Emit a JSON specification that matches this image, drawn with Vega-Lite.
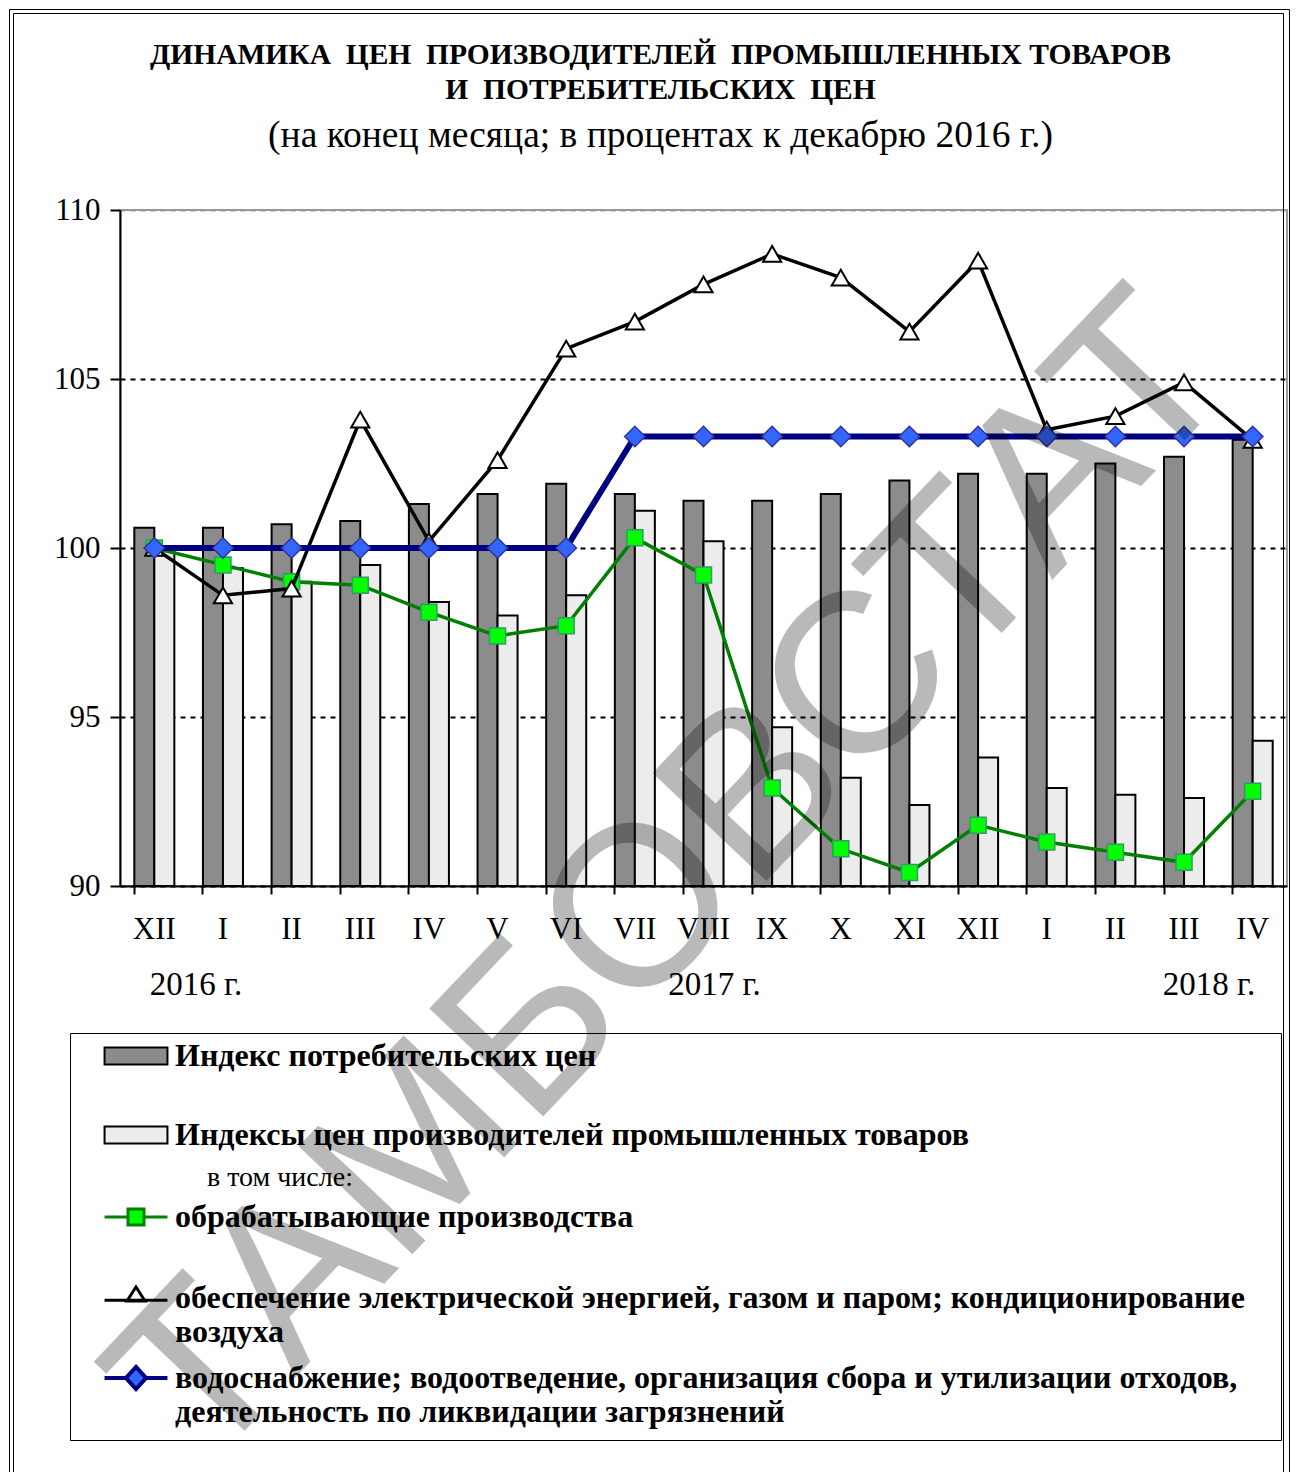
{
  "$schema": "https://vega.github.io/schema/vega-lite/v6.json",
  "width": 1167,
  "height": 676,
  "autosize": {"type": "none"},
  "padding": {"left": 120, "top": 210, "right": 13, "bottom": 586},
  "background": "white",
  "config": {
    "view": {"stroke": "#999999", "strokeWidth": 2},
    "legend": {
      "orient": "none", "direction": "vertical", "padding": 0,
      "labelFont": "Liberation Serif", "labelFontSize": 32, "labelFontWeight": "bold", "labelColor": "black", "labelLimit": 1400,
      "symbolSize": 289, "symbolOffset": 50, "labelOffset": 23, "symbolOpacity": 1
    }
  },
  "title": {
    "text": ["ДИНАМИКА\u00a0\u00a0ЦЕН\u00a0\u00a0ПРОИЗВОДИТЕЛЕЙ\u00a0\u00a0ПРОМЫШЛЕННЫХ ТОВАРОВ", "И\u00a0\u00a0ПОТРЕБИТЕЛЬСКИХ\u00a0\u00a0ЦЕН"],
    "subtitle": "(на конец месяца; в процентах к декабрю 2016 г.)",
    "font": "Liberation Serif",
    "fontSize": 29.5,
    "fontWeight": "bold",
    "lineHeight": 35,
    "color": "black",
    "subtitleFont": "Liberation Serif",
    "subtitleFontSize": 37.5,
    "subtitleFontWeight": "normal",
    "subtitleColor": "black",
    "subtitlePadding": 12,
    "anchor": "middle",
    "dx": -43,
    "offset": -147
  },
  "resolve": {"scale": {"color": "independent"}, "legend": {"color": "independent"}},
  "datasets": {
    "series": [
      {"m": "XII 2016", "s": "a", "v": 100.6}, {"m": "I 2017", "s": "a", "v": 100.6}, {"m": "II 2017", "s": "a", "v": 100.7}, {"m": "III 2017", "s": "a", "v": 100.8}, {"m": "IV 2017", "s": "a", "v": 101.3}, {"m": "V 2017", "s": "a", "v": 101.6}, {"m": "VI 2017", "s": "a", "v": 101.9}, {"m": "VII 2017", "s": "a", "v": 101.6}, {"m": "VIII 2017", "s": "a", "v": 101.4}, {"m": "IX 2017", "s": "a", "v": 101.4}, {"m": "X 2017", "s": "a", "v": 101.6}, {"m": "XI 2017", "s": "a", "v": 102.0}, {"m": "XII 2017", "s": "a", "v": 102.2}, {"m": "I 2018", "s": "a", "v": 102.2}, {"m": "II 2018", "s": "a", "v": 102.5}, {"m": "III 2018", "s": "a", "v": 102.7}, {"m": "IV 2018", "s": "a", "v": 103.2},
      {"m": "XII 2016", "s": "b", "v": 100.0}, {"m": "I 2017", "s": "b", "v": 99.4}, {"m": "II 2017", "s": "b", "v": 99.0}, {"m": "III 2017", "s": "b", "v": 99.5}, {"m": "IV 2017", "s": "b", "v": 98.4}, {"m": "V 2017", "s": "b", "v": 98.0}, {"m": "VI 2017", "s": "b", "v": 98.6}, {"m": "VII 2017", "s": "b", "v": 101.1}, {"m": "VIII 2017", "s": "b", "v": 100.2}, {"m": "IX 2017", "s": "b", "v": 94.7}, {"m": "X 2017", "s": "b", "v": 93.2}, {"m": "XI 2017", "s": "b", "v": 92.4}, {"m": "XII 2017", "s": "b", "v": 93.8}, {"m": "I 2018", "s": "b", "v": 92.9}, {"m": "II 2018", "s": "b", "v": 92.7}, {"m": "III 2018", "s": "b", "v": 92.6}, {"m": "IV 2018", "s": "b", "v": 94.3},
      {"m": "XII 2016", "s": "c", "v": 100.0}, {"m": "I 2017", "s": "c", "v": 99.5}, {"m": "II 2017", "s": "c", "v": 99.0}, {"m": "III 2017", "s": "c", "v": 98.9}, {"m": "IV 2017", "s": "c", "v": 98.1}, {"m": "V 2017", "s": "c", "v": 97.4}, {"m": "VI 2017", "s": "c", "v": 97.7}, {"m": "VII 2017", "s": "c", "v": 100.3}, {"m": "VIII 2017", "s": "c", "v": 99.2}, {"m": "IX 2017", "s": "c", "v": 92.9}, {"m": "X 2017", "s": "c", "v": 91.1}, {"m": "XI 2017", "s": "c", "v": 90.4}, {"m": "XII 2017", "s": "c", "v": 91.8}, {"m": "I 2018", "s": "c", "v": 91.3}, {"m": "II 2018", "s": "c", "v": 91.0}, {"m": "III 2018", "s": "c", "v": 90.7}, {"m": "IV 2018", "s": "c", "v": 92.8},
      {"m": "XII 2016", "s": "d", "v": 100.0}, {"m": "I 2017", "s": "d", "v": 98.6}, {"m": "II 2017", "s": "d", "v": 98.8}, {"m": "III 2017", "s": "d", "v": 103.8}, {"m": "IV 2017", "s": "d", "v": 100.2}, {"m": "V 2017", "s": "d", "v": 102.6}, {"m": "VI 2017", "s": "d", "v": 105.9}, {"m": "VII 2017", "s": "d", "v": 106.7}, {"m": "VIII 2017", "s": "d", "v": 107.8}, {"m": "IX 2017", "s": "d", "v": 108.7}, {"m": "X 2017", "s": "d", "v": 108.0}, {"m": "XI 2017", "s": "d", "v": 106.4}, {"m": "XII 2017", "s": "d", "v": 108.5}, {"m": "I 2018", "s": "d", "v": 103.5}, {"m": "II 2018", "s": "d", "v": 103.9}, {"m": "III 2018", "s": "d", "v": 104.9}, {"m": "IV 2018", "s": "d", "v": 103.2},
      {"m": "XII 2016", "s": "e", "v": 100.0}, {"m": "I 2017", "s": "e", "v": 100.0}, {"m": "II 2017", "s": "e", "v": 100.0}, {"m": "III 2017", "s": "e", "v": 100.0}, {"m": "IV 2017", "s": "e", "v": 100.0}, {"m": "V 2017", "s": "e", "v": 100.0}, {"m": "VI 2017", "s": "e", "v": 100.0}, {"m": "VII 2017", "s": "e", "v": 103.3}, {"m": "VIII 2017", "s": "e", "v": 103.3}, {"m": "IX 2017", "s": "e", "v": 103.3}, {"m": "X 2017", "s": "e", "v": 103.3}, {"m": "XI 2017", "s": "e", "v": 103.3}, {"m": "XII 2017", "s": "e", "v": 103.3}, {"m": "I 2018", "s": "e", "v": 103.3}, {"m": "II 2018", "s": "e", "v": 103.3}, {"m": "III 2018", "s": "e", "v": 103.3}, {"m": "IV 2018", "s": "e", "v": 103.3}
    ],
    "years": [
      {"t": "2016 г.", "m": "I 2017"},
      {"t": "2017 г.", "m": "VIII 2017"},
      {"t": "2018 г.", "m": "III 2018"}
    ],
    "mark": [{"w": "ТАМБОВСТАТ", "m": "VII 2017"}]
  },
  "data": {"name": "series"},
  "layer": [
    {
      "transform": [{"filter": "datum.s == 'a' || datum.s == 'b'"}],
      "mark": {"type": "bar", "stroke": "black", "strokeWidth": 2},
      "encoding": {
        "x": {
          "field": "m", "type": "nominal",
          "scale": {"domain": ["XII 2016", "I 2017", "II 2017", "III 2017", "IV 2017", "V 2017", "VI 2017", "VII 2017", "VIII 2017", "IX 2017", "X 2017", "XI 2017", "XII 2017", "I 2018", "II 2018", "III 2018", "IV 2018"], "paddingInner": 0.417, "paddingOuter": 0.2085},
          "axis": {"title": null, "labelExpr": "split(datum.label, ' ')[0]", "labelFont": "Liberation Serif", "labelFontSize": 31, "labelColor": "black", "labelAngle": 0, "labelPadding": 20, "tickSize": 8, "tickWidth": 2, "tickColor": "black", "domainColor": "black", "domainWidth": 2, "bandPosition": 0, "grid": false, "labelOverlap": false}
        },
        "xOffset": {"field": "s", "type": "nominal", "scale": {"domain": ["a", "b"], "paddingInner": 0, "paddingOuter": 0}},
        "y": {
          "field": "v", "type": "quantitative",
          "scale": {"domain": [90, 110], "zero": false, "nice": false},
          "axis": {"title": null, "values": [90, 95, 100, 105, 110], "grid": true, "gridDash": [5, 5], "gridWidth": 2, "gridColor": {"condition": {"test": "datum.value == 110", "value": "#999999"}, "value": "black"}, "labelFont": "Liberation Serif", "labelFontSize": 31, "labelColor": "black", "tickSize": 10, "tickWidth": 2, "tickColor": "black", "domainColor": "black", "domainWidth": 2, "labelPadding": 10}
        },
        "y2": {"datum": 90},
        "color": {
          "field": "s", "type": "nominal",
          "scale": {"domain": ["a", "b"], "range": ["#8c8c8c", "#ececec"]},
          "legend": {
            "legendX": -50, "legendY": 830, "title": null,
            "symbolType": "M-3.7,-1H3.7V1H-3.7Z", "symbolStrokeColor": "black", "symbolStrokeWidth": 2,
            "rowPadding": 47,
            "labelExpr": "datum.value == 'a' ? 'Индекс потребительских цен' : 'Индексы цен производителей промышленных товаров'"
          }
        }
      }
    },
    {
      "transform": [{"filter": "datum.s == 'c'"}],
      "mark": {"type": "line", "strokeWidth": 3.5},
      "encoding": {
        "x": {"field": "m", "type": "nominal"}, "y": {"field": "v", "type": "quantitative"},
        "color": {
          "field": "s", "type": "nominal", "scale": {"domain": ["c"], "range": ["#008000"]},
          "legend": {
            "legendX": 87, "legendY": 954, "symbolOffset": -87,
            "title": "в том числе:",
            "titleFont": "Liberation Serif", "titleFontSize": 28, "titleFontWeight": "normal", "titleColor": "black", "titlePadding": 9, "titleLimit": 1000,
            "symbolType": "M-3.7,0H-0.94M0.94,0H3.7M-0.94,-0.94H0.94V0.94H-0.94Z", "symbolFillColor": "#00ff00", "symbolStrokeWidth": 3,
            "labelExpr": "'обрабатывающие производства'"
          }
        }
      }
    },
    {
      "transform": [{"filter": "datum.s == 'c'"}],
      "mark": {"type": "point", "shape": "square", "filled": true, "fill": "#00ff00", "stroke": "#339966", "strokeWidth": 1.5, "size": 256, "opacity": 1},
      "encoding": {"x": {"field": "m", "type": "nominal"}, "y": {"field": "v", "type": "quantitative"}}
    },
    {
      "transform": [{"filter": "datum.s == 'd'"}],
      "mark": {"type": "line", "strokeWidth": 3.5},
      "encoding": {
        "x": {"field": "m", "type": "nominal"}, "y": {"field": "v", "type": "quantitative"},
        "color": {
          "field": "s", "type": "nominal", "scale": {"domain": ["d"], "range": ["#000000"]},
          "legend": {
            "legendX": -50, "legendY": 1072, "title": null,
            "symbolType": "M-3.7,0.25H3.7M0,-1.3L1.06,0.35L-1.06,0.35Z", "symbolFillColor": "#ffffff", "symbolStrokeWidth": 3,
            "labelExpr": "['обеспечение электрической энергией, газом и паром; кондиционирование', 'воздуха']"
          }
        }
      }
    },
    {
      "transform": [{"filter": "datum.s == 'd'"}],
      "mark": {"type": "point", "shape": "triangle-up", "filled": true, "fill": "white", "stroke": "black", "strokeWidth": 2, "size": 330, "opacity": 1},
      "encoding": {"x": {"field": "m", "type": "nominal"}, "y": {"field": "v", "type": "quantitative"}}
    },
    {
      "transform": [{"filter": "datum.s == 'e'"}],
      "mark": {"type": "line", "strokeWidth": 6},
      "encoding": {
        "x": {"field": "m", "type": "nominal"}, "y": {"field": "v", "type": "quantitative"},
        "color": {
          "field": "s", "type": "nominal", "scale": {"domain": ["e"], "range": ["#000080"]},
          "legend": {
            "legendX": -50, "legendY": 1152, "title": null,
            "symbolType": "M-3.7,0H-1.18M1.18,0H3.7M0,-1.3L1.18,0L0,1.3L-1.18,0Z", "symbolFillColor": "#3366ff", "symbolStrokeWidth": 4,
            "labelExpr": "['водоснабжение; водоотведение, организация сбора и утилизации отходов,', 'деятельность по ликвидации загрязнений']"
          }
        }
      }
    },
    {
      "transform": [{"filter": "datum.s == 'e'"}],
      "mark": {"type": "point", "shape": "diamond", "filled": true, "fill": "#3366ff", "stroke": "#333399", "strokeWidth": 1.5, "size": 420, "opacity": 1},
      "encoding": {"x": {"field": "m", "type": "nominal"}, "y": {"field": "v", "type": "quantitative"}}
    },
    {
      "data": {"name": "years"},
      "transform": [{"filter": "datum.t == '2016 г.'"}],
      "mark": {"type": "text", "font": "Liberation Serif", "fontSize": 33, "baseline": "middle", "dx": -27},
      "encoding": {
        "x": {"field": "m", "type": "nominal"}, "y": {"datum": 87.07}, "text": {"field": "t"},
        "color": {
          "field": "t", "type": "nominal", "scale": {"range": ["#000000"]},
          "legend": {
            "legendX": -107, "legendY": -197, "title": null, "padding": 0,
            "strokeColor": "black",
            "symbolSize": 0, "symbolOpacity": 0, "symbolOffset": 0, "labelOffset": 0,
            "labelFontSize": 20, "labelFontWeight": "normal", "labelBaseline": "top", "labelOpacity": 0,
            "labelExpr": "split(' | | | | | | | | | | | | | | | | | | | | | | | | | | | | | | | | | | | | | | | | | | | | |_____________________________________________________________________________________________________________________________| | | | | | | | | | | | | | | | | | | | | ', '|')"
          }
        }
      }
    },
    {
      "data": {"name": "years"},
      "transform": [{"filter": "datum.t == '2017 г.'"}],
      "mark": {"type": "text", "font": "Liberation Serif", "fontSize": 33, "baseline": "middle", "dx": 11},
      "encoding": {
        "x": {"field": "m", "type": "nominal"}, "y": {"datum": 87.07}, "text": {"field": "t"},
        "color": {
          "field": "t", "type": "nominal", "scale": {"range": ["#000000"]},
          "legend": {
            "legendX": -50, "legendY": 823, "title": null, "padding": 0,
            "strokeColor": "black",
            "symbolSize": 0, "symbolOpacity": 0, "symbolOffset": 0, "labelOffset": 0,
            "labelFontSize": 16.2, "labelFontWeight": "normal", "labelBaseline": "top", "labelOpacity": 0,
            "labelExpr": "split(' | |___________________________________________________________________________________________________________________________________________________.| | | | | | | | | | | | | | | | | | | ', '|')"
          }
        }
      }
    },
    {
      "data": {"name": "years"},
      "transform": [{"filter": "datum.t == '2018 г.'"}],
      "mark": {"type": "text", "font": "Liberation Serif", "fontSize": 33, "baseline": "middle", "dx": 25},
      "encoding": {
        "x": {"field": "m", "type": "nominal"}, "y": {"datum": 87.07}, "text": {"field": "t"},
        "color": {
          "field": "t", "type": "nominal", "scale": {"range": ["#000000"]},
          "legend": {
            "legendX": -111, "legendY": -201, "title": null, "padding": 0,
            "strokeColor": "black",
            "symbolSize": 0, "symbolOpacity": 0, "symbolOffset": 0, "labelOffset": 0,
            "labelFontSize": 20, "labelFontWeight": "normal", "labelBaseline": "top", "labelOpacity": 0,
            "labelExpr": "split(' | | | | | | | | | | | | | | | | | | | | | | | | | | | | | | | | | | | | | | | | | | | | |______________________________________________________________________________________________________________________________| | | | | | | | | | | | | | | | | | | | | ', '|')"
          }
        }
      }
    },
    {
      "data": {"name": "mark"},
      "mark": {"type": "text", "font": "Liberation Sans", "fontSize": 228, "angle": -46.5, "align": "center", "baseline": "middle", "color": "black", "opacity": 0.27, "dx": 55},
      "encoding": {"x": {"field": "m", "type": "nominal"}, "y": {"datum": 88.97}, "text": {"field": "w"}}
    }
  ]
}
